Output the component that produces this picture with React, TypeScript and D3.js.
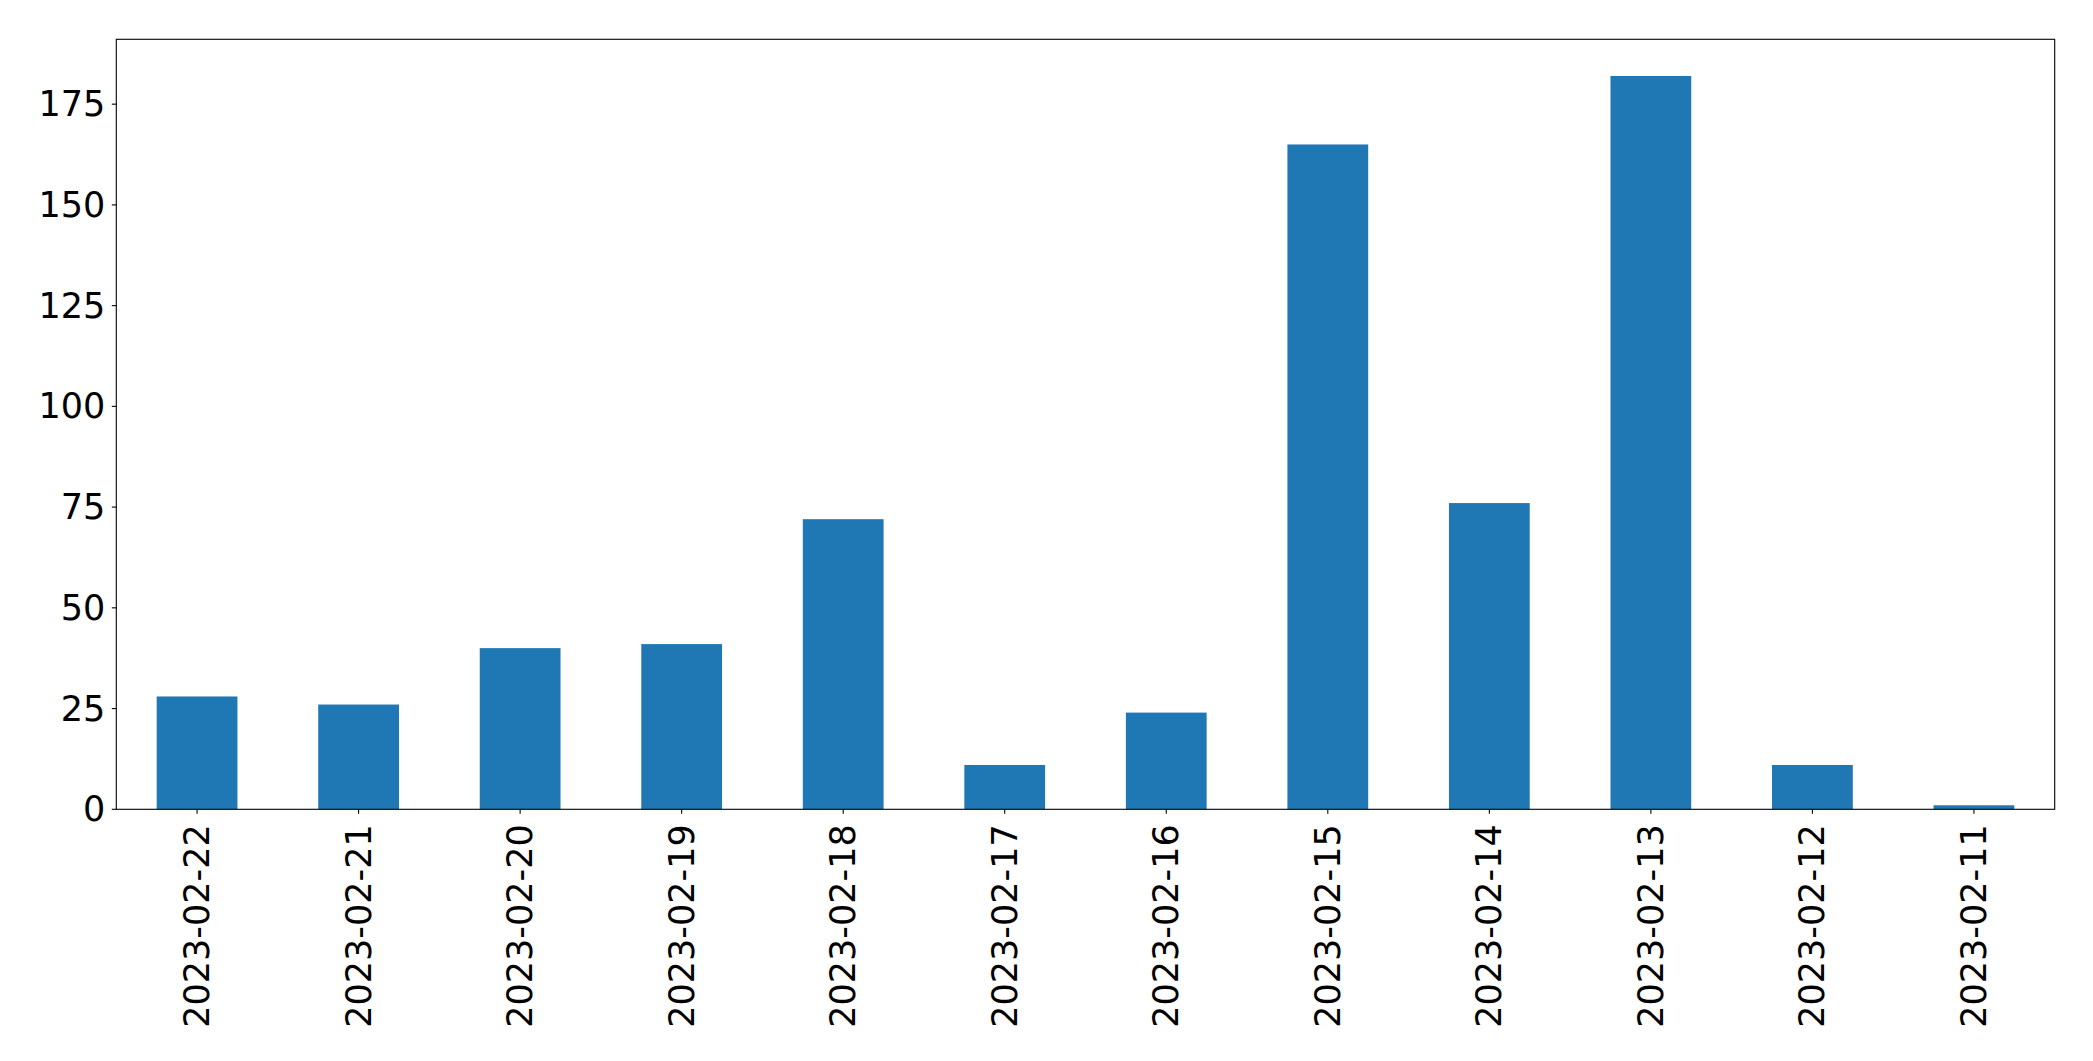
import React from "react";
import * as d3 from "d3";

const categories = [
  "2023-02-22", "2023-02-21", "2023-02-20", "2023-02-19", "2023-02-18", "2023-02-17",
  "2023-02-16", "2023-02-15", "2023-02-14", "2023-02-13", "2023-02-12", "2023-02-11",
];
const values = [28, 26, 40, 41, 72, 11, 24, 165, 76, 182, 11, 1];
const yTicks = [0, 25, 50, 75, 100, 125, 150, 175];

const W = 2093;
const H = 1061;
const left = 116.3;
const right = 2054.7;
const top = 39.3;
const bottom = 809.3;
const FONT = "DejaVu Sans, sans-serif";

export default function App() {
  const maxV = d3.max(values) as number;
  const x = d3
    .scaleBand<string>()
    .domain(categories)
    .range([left, right])
    .paddingInner(0.5)
    .paddingOuter(0.25);
  const y = d3.scaleLinear().domain([0, maxV * 1.05]).range([bottom, top]);

  return (
    <svg
      width={W}
      height={H}
      style={{ position: "absolute", left: 0, top: 0, background: "#fff" }}
    >
      <rect x={0} y={0} width={W} height={H} fill="#fff" />
      {categories.map((c, i) => (
        <rect
          key={c}
          x={x(c)}
          y={y(values[i])}
          width={x.bandwidth()}
          height={y(0) - y(values[i])}
          fill="#1f77b4"
        />
      ))}
      <rect
        x={left}
        y={top}
        width={right - left}
        height={bottom - top}
        fill="none"
        stroke="#000"
        strokeWidth={1.1}
      />
      {yTicks.map((t) => (
        <g key={t}>
          <line x1={left - 4.5} x2={left} y1={y(t)} y2={y(t)} stroke="#000" strokeWidth={1.1} />
          <text
            x={left - 11}
            y={y(t)}
            textAnchor="end"
            dominantBaseline="central"
            fontFamily={FONT}
            fontSize={35}
            fill="#000"
          >
            {t}
          </text>
        </g>
      ))}
      {categories.map((c) => {
        const cx = (x(c) as number) + x.bandwidth() / 2;
        return (
          <g key={c}>
            <line x1={cx} x2={cx} y1={bottom} y2={bottom + 4.5} stroke="#000" strokeWidth={1.1} />
            <text
              transform={`translate(${cx},${bottom + 15}) rotate(-90)`}
              textAnchor="end"
              dominantBaseline="central"
              fontFamily={FONT}
              fontSize={35}
              fill="#000"
            >
              {c}
            </text>
          </g>
        );
      })}
    </svg>
  );
}
